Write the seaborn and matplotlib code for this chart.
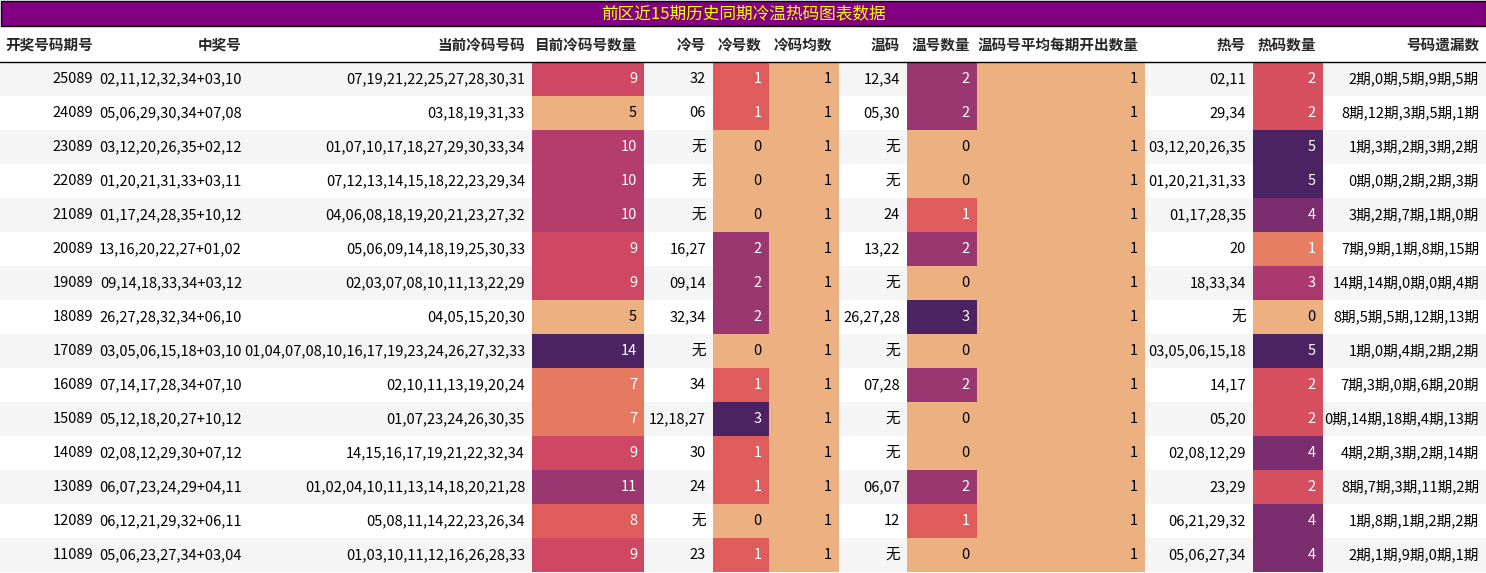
import numpy as np
import matplotlib
matplotlib.use("Agg")
import matplotlib.pyplot as plt
import seaborn as sns
from matplotlib.colors import Normalize

sns.set_style("white")
plt.rcParams['font.family'] = ['Noto Sans CJK SC', 'DejaVu Sans']

# 数据
title = "前区近15期历史同期冷温热码图表数据"
headers = ["开奖号码期号", "中奖号", "当前冷码号码", "目前冷码号数量", "冷号", "冷号数", "冷码均数",
           "温码", "温号数量", "温码号平均每期开出数量", "热号", "热码数量", "号码遗漏数"]
periods = ["25089", "24089", "23089", "22089", "21089", "20089", "19089", "18089",
           "17089", "16089", "15089", "14089", "13089", "12089", "11089"]
winning = ["02,11,12,32,34+03,10", "05,06,29,30,34+07,08", "03,12,20,26,35+02,12",
           "01,20,21,31,33+03,11", "01,17,24,28,35+10,12", "13,16,20,22,27+01,02",
           "09,14,18,33,34+03,12", "26,27,28,32,34+06,10", "03,05,06,15,18+03,10",
           "07,14,17,28,34+07,10", "05,12,18,20,27+10,12", "02,08,12,29,30+07,12",
           "06,07,23,24,29+04,11", "06,12,21,29,32+06,11", "05,06,23,27,34+03,04"]
cold_nums = ["07,19,21,22,25,27,28,30,31", "03,18,19,31,33", "01,07,10,17,18,27,29,30,33,34",
             "07,12,13,14,15,18,22,23,29,34", "04,06,08,18,19,20,21,23,27,32",
             "05,06,09,14,18,19,25,30,33", "02,03,07,08,10,11,13,22,29", "04,05,15,20,30",
             "01,04,07,08,10,16,17,19,23,24,26,27,32,33", "02,10,11,13,19,20,24",
             "01,07,23,24,26,30,35", "14,15,16,17,19,21,22,32,34",
             "01,02,04,10,11,13,14,18,20,21,28", "05,08,11,14,22,23,26,34",
             "01,03,10,11,12,16,26,28,33"]
cold_count = [9, 5, 10, 10, 10, 9, 9, 5, 14, 7, 7, 9, 11, 8, 9]
cold_hit = ["32", "06", "无", "无", "无", "16,27", "09,14", "32,34", "无", "34", "12,18,27",
            "30", "24", "无", "23"]
cold_hit_n = [1, 1, 0, 0, 0, 2, 2, 2, 0, 1, 3, 1, 1, 0, 1]
cold_avg = [1] * 15
warm_hit = ["12,34", "05,30", "无", "无", "24", "13,22", "无", "26,27,28", "无", "07,28",
            "无", "无", "06,07", "12", "无"]
warm_n = [2, 2, 0, 0, 1, 2, 0, 3, 0, 2, 0, 0, 2, 1, 0]
warm_avg = [1] * 15
hot_hit = ["02,11", "29,34", "03,12,20,26,35", "01,20,21,31,33", "01,17,28,35", "20",
           "18,33,34", "无", "03,05,06,15,18", "14,17", "05,20", "02,08,12,29", "23,29",
           "06,21,29,32", "05,06,27,34"]
hot_n = [2, 2, 5, 5, 4, 1, 3, 0, 5, 2, 2, 4, 2, 4, 4]
omission = ["2期,0期,5期,9期,5期", "8期,12期,3期,5期,1期", "1期,3期,2期,3期,2期",
            "0期,0期,2期,2期,3期", "3期,2期,7期,1期,0期", "7期,9期,1期,8期,15期",
            "14期,14期,0期,0期,4期", "8期,5期,5期,12期,13期", "1期,0期,4期,2期,2期",
            "7期,3期,0期,6期,20期", "0期,14期,18期,4期,13期", "4期,2期,3期,2期,14期",
            "8期,7期,3期,11期,2期", "1期,8期,1期,2期,2期", "2期,1期,9期,0期,1期"]

columns = [periods, winning, cold_nums, cold_count, cold_hit, cold_hit_n, cold_avg,
           warm_hit, warm_n, warm_avg, hot_hit, hot_n, omission]
gradient_cols = {3, 5, 6, 8, 9, 11}
edges = [0, 100, 249, 532, 644, 713, 769, 839, 907, 977, 1145, 1253, 1323, 1486]

W, H = 1486, 573
fig = plt.figure(figsize=(W / 100, H / 100), dpi=100)
ax = fig.add_axes([0, 0, 1, 1])
ax.set_xlim(0, W)
ax.set_ylim(H, 0)
ax.axis("off")
cmap = sns.color_palette("flare", as_cmap=True)


def lum(c):
    def f(x):
        return x / 12.92 if x <= 0.03928 else ((x + 0.055) / 1.055) ** 2.4
    r, g, b = c[:3]
    return 0.2126 * f(r) + 0.7152 * f(g) + 0.0722 * f(b)


# 标题
ax.add_patch(plt.Rectangle((0.5, 0.5), W - 1, 25, facecolor="#800080", edgecolor="black", lw=1))
ax.text(W / 2, 14, title, color="#FFFF00", ha="center", va="center", fontsize=12)

# 表头
for j, h in enumerate(headers):
    ax.text(edges[j + 1] - 7, 45, h, ha="right", va="center", fontsize=10.5, fontweight="bold")
ax.plot([0, W], [61.5, 61.5], color="black", lw=1)

row_h, top = 34, 62
for i in range(15):
    y0 = top + i * row_h
    if i % 2 == 0:
        ax.add_patch(plt.Rectangle((0, y0), W, row_h, facecolor="#F5F5F5", edgecolor="none"))
    for j, col in enumerate(columns):
        val = col[i]
        tc = "black"
        if j in gradient_cols:
            arr = np.array(col, dtype=float)
            rng = arr.max() - arr.min()
            t = (val - arr.min()) / rng if rng > 0 else 0
            c = cmap(t)
            ax.add_patch(plt.Rectangle((edges[j], y0), edges[j + 1] - edges[j], row_h,
                                       facecolor=c, edgecolor="none"))
            tc = "white" if lum(c) < 0.408 else "black"
        ax.text(edges[j + 1] - 7, y0 + row_h / 2, str(val), ha="right", va="center",
                fontsize=10.5, color=tc)

fig.savefig("out.png", dpi=100)
